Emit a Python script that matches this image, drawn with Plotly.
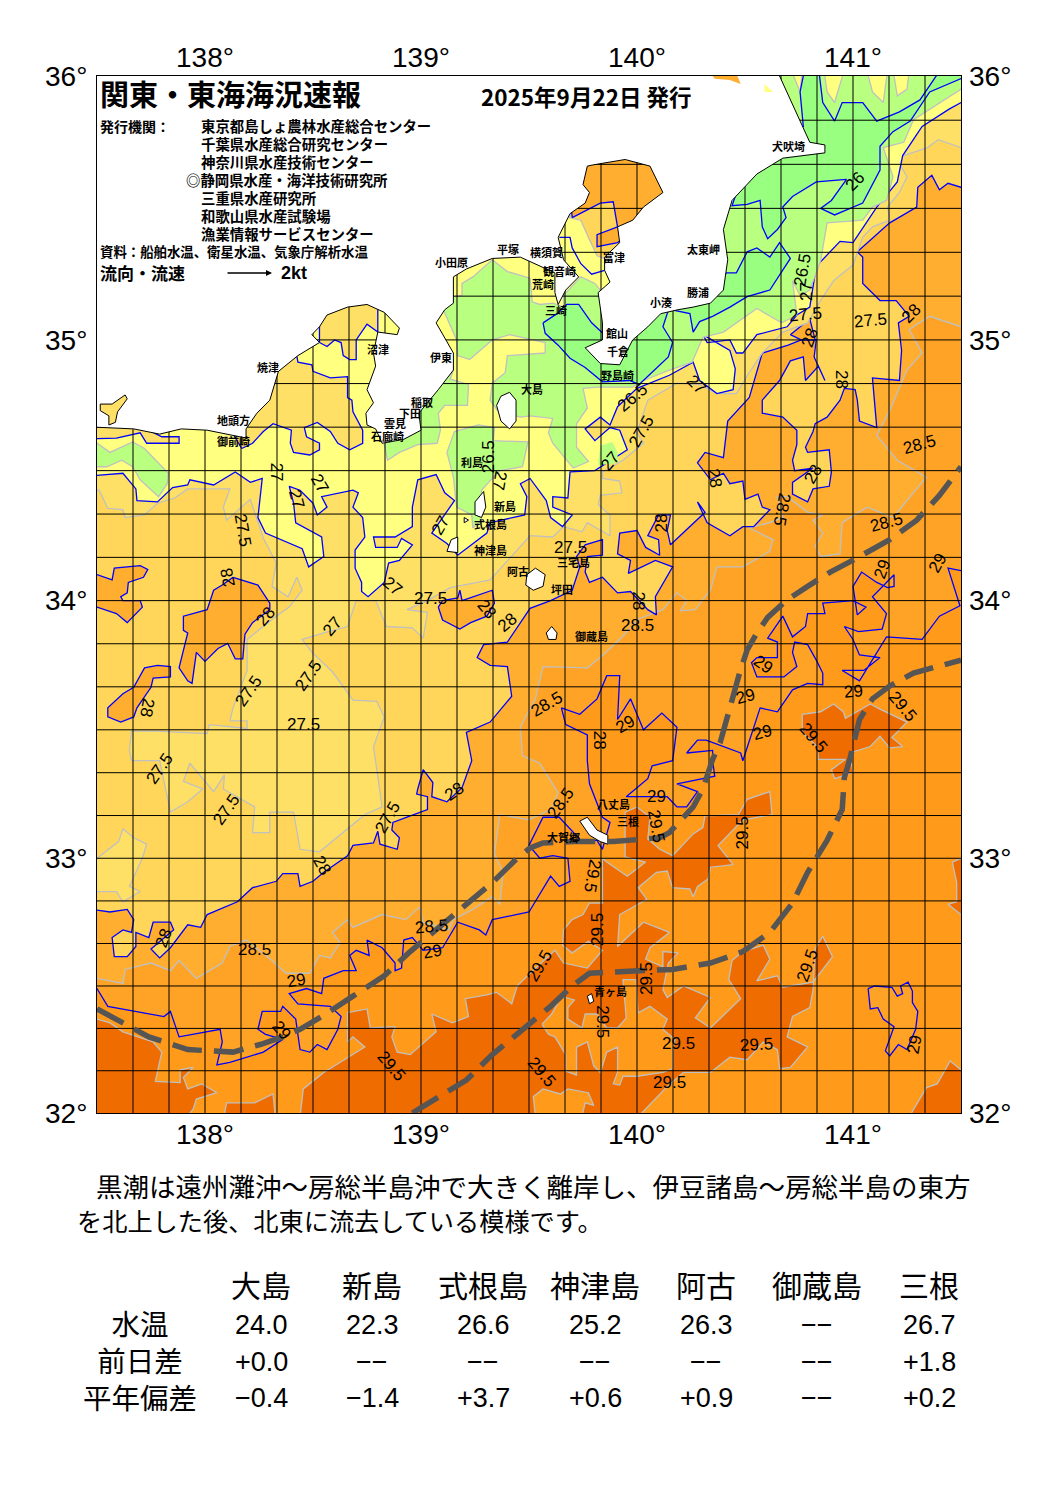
import numpy as np
import plotly.graph_objects as go

# ---- colours of the temperature bands
C_BASE = '#FF9A1A'    # 29.0-29.5
C_295 = '#EE6C00'     # > 29.5
C_285 = '#FFA326'     # 28.5-29
C_28 = '#FFAE30'      # 28-28.5
C_275 = '#FFD659'     # 27.5-28
C_27 = '#FFE066'      # 27-27.5
C_265 = '#FFFF80'     # 26.5-27
C_26 = '#B9FF80'      # 26-26.5
C_25 = '#99FF80'      # < 26
BLUE = '#0000FF'
GRAY = '#C0C0C0'

# ---- contours, (lon, lat)
coast = [(137.4,34.67),(137.67,34.66),(137.79,34.64),(137.89,34.66),(138.01,34.655),(138.19,34.625),(138.19,34.66),(138.24,34.72),(138.30,34.77),(138.31,34.80),(138.34,34.88),(138.43,34.94),(138.53,34.99),(138.495,35.02),(138.53,35.05),(138.565,35.095),(138.66,35.125),(138.75,35.135),(138.83,35.105),(138.90,35.045),(138.89,35.02),(138.80,35.03),(138.78,34.95),(138.79,34.90),(138.75,34.81),(138.78,34.76),(138.745,34.72),(138.75,34.675),(138.79,34.66),(138.82,34.605),(138.92,34.62),(139.0,34.655),(138.99,34.72),(139.08,34.81),(139.15,34.885),(139.15,34.95),(139.07,35.065),(139.11,35.115),(139.15,35.14),(139.15,35.24),(139.21,35.27),(139.33,35.31),(139.46,35.315),(139.62,35.255),(139.62,35.18),(139.635,35.135),(139.67,35.19),(139.73,35.24),(139.66,35.305),(139.635,35.39),(139.69,35.48),(139.76,35.52),(139.78,35.56),(139.75,35.59),(139.77,35.66),(139.80,35.665),(139.945,35.685),(140.06,35.66),(140.12,35.56),(140.03,35.505),(139.98,35.455),(139.91,35.43),(139.92,35.37),(139.85,35.315),(139.85,35.265),(139.875,35.22),(139.82,35.18),(139.84,35.065),(139.84,35.0),(139.76,34.97),(139.83,34.91),(139.92,34.905),(139.98,35.0),(140.05,35.05),(140.11,35.10),(140.19,35.115),(140.26,35.125),(140.34,35.14),(140.40,35.19),(140.42,35.305),(140.40,35.42),(140.44,35.53),(140.555,35.63),(140.675,35.69),(140.87,35.71),(140.87,35.74),(140.80,35.75),(140.66,36.0),(140.63,36.1),(137.4,36.1)]
oshima = [(139.35,34.75),(139.37,34.785),(139.41,34.80),(139.44,34.77),(139.44,34.69),(139.41,34.66),(139.37,34.69)]
niijima = [(139.29,34.42),(139.30,34.36),(139.28,34.32),(139.25,34.33),(139.25,34.38)]
shikine = [(139.20,34.32),(139.22,34.31),(139.20,34.30)]
kozu = [(139.12,34.19),(139.14,34.235),(139.17,34.245),(139.17,34.185)]
miyake = [(139.49,34.10),(139.53,34.125),(139.575,34.10),(139.565,34.055),(139.52,34.04),(139.485,34.06)]
mikura = [(139.58,33.875),(139.605,33.90),(139.63,33.875),(139.625,33.85),(139.59,33.85)]
hachijo = [(139.735,33.145),(139.77,33.16),(139.815,33.11),(139.865,33.09),(139.865,33.055),(139.83,33.065),(139.78,33.09)]
aogashima = [(139.77,32.46),(139.79,32.47),(139.80,32.44),(139.78,32.43)]
hamana = [(137.515,34.755),(137.57,34.755),(137.63,34.79),(137.64,34.775),(137.595,34.725),(137.585,34.685),(137.555,34.675),(137.555,34.71),(137.515,34.73)]

c29 = [(137.4,32.49),(137.5,32.49),(137.55,32.42),(137.62,32.41),(137.81,32.38),(137.84,32.40),(137.88,32.30),(138.07,32.33),(138.08,32.28),(138.055,32.19),(138.115,32.20),(138.27,32.24),(138.36,32.29),(138.28,32.31),(138.245,32.33),(138.265,32.40),(138.35,32.40),(138.36,32.42),(138.42,32.37),(138.44,32.25),(138.485,32.24),(138.52,32.27),(138.565,32.25),(138.615,32.33),(138.63,32.38),(138.58,32.42),(138.43,32.43),(138.39,32.47),(138.47,32.49),(138.54,32.47),(138.55,32.53),(138.64,32.56),(138.70,32.56),(138.67,32.62),(138.70,32.64),(138.76,32.62),(138.75,32.68),(138.82,32.65),(138.88,32.59),(138.88,32.56),(138.91,32.57),(138.92,32.68),(138.96,32.69),(139.01,32.64),(139.10,32.65),(139.17,32.75),(139.27,32.72),(139.30,32.70),(139.33,32.76),(139.50,32.79),(139.60,32.93),(139.64,32.89),(139.69,32.91),(139.68,33.0),(139.61,33.01),(139.55,33.0),(139.50,33.05),(139.565,33.16),(139.64,33.16),(139.74,33.07),(139.815,33.07),(139.84,33.035),(139.875,33.14),(139.84,33.16),(139.78,33.29),(139.77,33.38),(139.77,33.48),(139.67,33.52),(139.65,33.585),(139.735,33.56),(139.815,33.62),(139.86,33.71),(139.92,33.71),(139.91,33.54),(139.97,33.62),(140.03,33.50),(140.115,33.565),(140.185,33.51),(140.165,33.38),(140.07,33.36),(140.05,33.31),(139.95,33.24),(140.14,33.24),(140.185,33.20),(140.23,33.20),(140.28,33.26),(140.185,33.29),(140.36,33.32),(140.35,33.38),(140.35,33.42),(140.23,33.41),(140.28,33.46),(140.32,33.46),(140.48,33.41),(140.49,33.38),(140.57,33.585),(140.65,33.57),(140.72,33.655),(140.79,33.68),(140.86,33.675),(140.86,33.72),(140.83,33.77),(140.79,33.83),(140.73,33.84),(140.72,33.80),(140.74,33.745),(140.68,33.705),(140.555,33.705),(140.53,33.76),(140.555,33.78),(140.65,33.78),(140.65,33.84),(140.605,33.855),(140.675,33.94),(140.72,33.86),(140.78,33.90),(140.79,33.95),(140.87,33.95),(140.86,33.99),(141.0,34.0),(141.06,33.975),(141.02,33.945),(141.0,34.055),(141.04,34.11),(141.11,34.07),(141.16,34.05),(141.19,34.055),(141.19,34.10),(141.09,34.015),(141.155,33.95),(141.135,33.89),(141.025,33.88),(140.96,33.90),(141.0,33.85),(141.03,33.79),(141.125,33.78),(141.05,33.73),(140.95,33.73),(141.03,33.69),(141.155,33.86),(141.32,33.85),(141.40,33.94),(141.495,33.98),(141.44,34.125),(141.6,34.10),(141.6,36.1),(137.4,36.1)]
c29_se = [(141.07,32.49),(141.10,32.50),(141.18,32.495),(141.205,32.46),(141.23,32.47),(141.22,32.50),(141.255,32.515),(141.275,32.48),(141.275,32.435),(141.30,32.40),(141.29,32.33),(141.25,32.25),(141.21,32.27),(141.17,32.225),(141.15,32.245),(141.19,32.34),(141.14,32.37),(141.115,32.415),(141.08,32.41)]

warm_sw = [(137.4,32.37),(137.5,32.37),(137.56,32.355),(137.62,32.32),(137.76,32.28),(137.80,32.24),(137.77,32.125),(137.885,32.12),(137.885,32.17),(137.945,32.18),(137.90,32.14),(137.92,32.095),(137.985,32.115),(138.055,32.08),(137.96,32.055),(137.945,32.015),(137.885,31.95),(137.4,31.95)]
warm_s = [(138.08,31.95),(138.10,32.04),(138.23,32.04),(138.315,32.075),(138.33,31.95)]
warm_main = [(138.44,31.985),(138.455,32.095),(138.55,32.16),(138.67,32.225),(138.74,32.26),(138.685,32.30),(138.66,32.28),(138.66,32.395),(138.75,32.41),(138.765,32.335),(138.88,32.34),(138.865,32.30),(138.89,32.24),(138.95,32.23),(139.005,32.27),(139.07,32.32),(139.05,32.39),(139.145,32.355),(139.22,32.38),(139.205,32.45),(139.305,32.465),(139.35,32.475),(139.42,32.43),(139.445,32.50),(139.505,32.55),(139.62,32.64),(139.66,32.59),(139.77,32.57),(139.84,32.64),(139.775,32.675),(139.70,32.63),(139.655,32.66),(139.66,32.72),(139.70,32.76),(139.75,32.78),(139.78,32.825),(139.84,32.825),(139.84,33.0),(139.86,32.985),(139.955,32.93),(140.04,32.985),(139.945,33.005),(139.945,33.18),(140.0,33.20),(140.06,33.16),(140.05,33.075),(140.105,33.035),(140.165,33.01),(140.26,33.095),(140.305,33.12),(140.315,33.165),(140.47,33.17),(140.51,33.23),(140.615,33.26),(140.625,33.17),(140.49,33.15),(140.375,33.05),(140.445,32.975),(140.34,32.965),(140.33,32.92),(140.28,32.89),(140.26,32.85),(140.245,32.88),(140.165,32.885),(140.14,32.95),(140.09,32.945),(140.005,32.885),(140.045,32.84),(139.92,32.78),(139.91,32.655),(140.03,32.75),(140.15,32.71),(140.06,32.65),(140.04,32.605),(140.12,32.575),(140.12,32.635),(140.19,32.63),(140.145,32.59),(140.12,32.485),(140.14,32.455),(140.215,32.50),(140.34,32.455),(140.27,32.375),(140.34,32.335),(140.48,32.45),(140.425,32.525),(140.44,32.60),(140.49,32.635),(140.585,32.66),(140.615,32.605),(140.555,32.52),(140.65,32.54),(140.675,32.495),(140.815,32.515),(140.905,32.615),(140.86,32.695),(140.825,32.645),(140.815,32.485),(140.80,32.415),(140.72,32.38),(140.695,32.30),(140.79,32.26),(140.71,32.18),(140.66,32.175),(140.65,32.25),(140.585,32.28),(140.51,32.21),(140.43,32.22),(140.34,32.16),(140.215,32.16),(140.14,32.105),(140.005,31.985)]
warm_ne = [(140.765,33.56),(140.85,33.57),(140.91,33.60),(140.955,33.57),(140.965,33.545),(141.08,33.60),(141.125,33.58),(141.25,33.53),(141.18,33.47),(141.23,33.435),(141.17,33.43),(141.125,33.475),(141.08,33.435),(140.985,33.41),(141.0,33.335),(140.915,33.31),(140.90,33.345),(140.965,33.385),(140.84,33.385),(140.835,33.435),(140.765,33.49)]
warm_se = [(141.26,31.985),(141.34,32.10),(141.39,32.115),(141.45,32.205),(141.5,32.17),(141.6,32.17),(141.6,31.985)]
warm_e = [(141.6,33.0),(141.5,33.0),(141.46,32.985),(141.48,32.905),(141.48,32.83),(141.44,32.82),(141.5,32.78),(141.6,32.78)]
hole_aoga = [(139.56,32.35),(139.59,32.31),(139.62,32.30),(139.67,32.23),(139.67,32.165),(139.72,32.15),(139.72,32.26),(139.77,32.28),(139.80,32.185),(139.83,32.16),(139.86,32.24),(139.91,32.26),(139.91,32.16),(139.89,32.115),(139.92,32.11),(139.935,32.145),(140.0,32.145),(140.12,32.16),(140.165,32.175),(140.165,32.24),(140.175,32.29),(140.12,32.33),(140.14,32.37),(140.06,32.42),(140.005,32.395),(139.995,32.525),(139.935,32.525),(139.95,32.375),(139.91,32.335),(139.86,32.335),(139.815,32.39),(139.76,32.39),(139.745,32.335),(139.68,32.37),(139.68,32.415),(139.71,32.445),(139.65,32.46),(139.605,32.39)]
hole_bottom = [(139.53,31.985),(139.52,32.065),(139.565,32.095),(139.645,32.075),(139.68,32.095),(139.775,32.08),(139.80,32.03),(139.76,32.04),(139.745,31.985)]

c285 = [(137.4,32.53),(137.5,32.53),(137.62,32.51),(137.63,32.565),(137.75,32.59),(137.84,32.56),(137.88,32.60),(137.96,32.53),(138.08,32.59),(138.115,32.655),(138.19,32.68),(138.31,32.60),(138.375,32.55),(138.485,32.55),(138.53,32.62),(138.58,32.61),(138.625,32.67),(138.59,32.71),(138.66,32.76),(138.685,32.73),(138.82,32.78),(138.93,32.76),(138.995,32.81),(139.01,32.75),(139.13,32.72),(139.15,32.76),(139.24,32.80),(139.33,32.85),(139.365,32.82),(139.38,32.945),(139.34,33.02),(139.365,33.17),(139.50,33.15),(139.60,33.19),(139.635,33.255),(139.55,33.37),(139.47,33.40),(139.46,33.51),(139.53,33.62),(139.565,33.745),(139.77,33.74),(139.83,33.78),(139.92,33.85),(140.01,33.93),(140.12,33.965),(140.185,34.03),(140.23,34.0),(140.20,33.96),(140.27,33.965),(140.34,34.04),(140.37,34.13),(140.49,34.13),(140.615,34.19),(140.63,34.235),(140.52,34.28),(140.615,34.30),(140.675,34.32),(140.65,34.40),(140.695,34.40),(140.79,34.34),(140.86,34.33),(140.815,34.31),(140.86,34.26),(140.825,34.21),(140.85,34.17),(140.94,34.18),(140.95,34.30),(141.065,34.36),(141.185,34.32),(141.34,34.475),(141.205,34.54),(141.11,34.635),(141.17,34.73),(141.25,34.885),(141.32,34.95),(141.26,35.04),(141.355,35.09),(141.5,35.05),(141.6,35.05),(141.6,36.1),(137.4,36.1)]

c28 = [(137.4,32.81),(137.56,32.79),(137.64,32.80),(137.67,32.76),(137.66,32.71),(137.62,32.72),(137.57,32.69),(137.58,32.615),(137.64,32.615),(137.68,32.655),(137.68,32.71),(137.74,32.69),(137.76,32.75),(137.84,32.75),(137.855,32.72),(137.75,32.645),(137.79,32.61),(137.84,32.65),(137.92,32.74),(137.98,32.73),(138.01,32.78),(138.15,32.83),(138.22,32.885),(138.33,32.91),(138.36,32.94),(138.43,32.94),(138.44,32.89),(138.50,32.91),(138.55,32.945),(138.66,33.01),(138.685,33.05),(138.78,33.06),(138.80,33.105),(138.81,33.055),(138.89,33.035),(138.90,33.08),(138.865,33.11),(138.87,33.14),(138.935,33.16),(139.03,33.19),(139.03,33.24),(138.98,33.25),(138.985,33.27),(139.01,33.345),(139.055,33.295),(139.05,33.24),(139.12,33.22),(139.19,33.275),(139.235,33.38),(139.21,33.49),(139.32,33.53),(139.42,33.63),(139.40,33.745),(139.32,33.75),(139.26,33.78),(139.29,33.83),(139.40,33.84),(139.505,33.97),(139.60,34.0),(139.70,34.04),(139.735,34.13),(139.72,34.17),(139.76,34.215),(139.84,34.235),(139.84,34.175),(139.77,34.17),(139.76,34.11),(139.78,34.07),(139.84,34.09),(139.91,34.03),(139.97,34.035),(140.05,33.965),(140.09,33.945),(140.085,34.015),(140.165,34.13),(140.085,34.155),(139.96,34.105),(139.97,34.155),(139.91,34.18),(139.92,34.26),(140.0,34.27),(140.04,34.205),(140.105,34.175),(140.10,34.235),(140.05,34.25),(140.10,34.33),(140.155,34.33),(140.14,34.27),(140.155,34.215),(140.29,34.32),(140.315,34.34),(140.28,34.38),(140.325,34.30),(140.43,34.25),(140.49,34.285),(140.54,34.285),(140.615,34.35),(140.58,34.36),(140.56,34.41),(140.50,34.39),(140.49,34.46),(140.43,34.45),(140.40,34.49),(140.34,34.465),(140.28,34.53),(140.315,34.57),(140.40,34.55),(140.42,34.69),(140.52,34.78),(140.58,34.95),(140.70,34.98),(140.76,35.0),(140.83,35.0),(140.82,34.935),(140.87,34.845),(140.84,34.90),(140.78,34.845),(140.77,34.935),(140.71,34.92),(140.66,34.845),(140.58,34.77),(140.58,34.72),(140.675,34.705),(140.74,34.655),(140.74,34.60),(140.72,34.54),(140.73,34.50),(140.815,34.51),(140.72,34.455),(140.72,34.41),(140.79,34.38),(140.815,34.43),(140.89,34.44),(140.90,34.495),(140.89,34.58),(140.79,34.57),(140.78,34.59),(140.815,34.65),(140.825,34.68),(140.88,34.705),(140.94,34.77),(140.96,34.815),(141.01,34.81),(141.02,34.77),(141.03,34.69),(141.11,34.665),(141.09,34.855),(141.215,34.845),(141.225,34.96),(141.21,35.065),(141.26,35.09),(141.20,35.15),(141.125,35.15),(141.045,35.215),(141.045,35.315),(141.02,35.335),(141.17,35.445),(141.295,35.505),(141.30,35.58),(141.365,35.625),(141.40,35.57),(141.44,35.595),(141.5,35.58),(141.6,35.58),(141.6,36.1),(137.4,36.1)]
blob1 = [(137.4,34.10),(137.5,34.10),(137.57,34.08),(137.58,34.125),(137.70,34.135),(137.735,34.12),(137.715,34.09),(137.645,34.07),(137.64,34.03),(137.61,34.015),(137.62,34.0),(137.70,34.0),(137.71,33.975),(137.64,33.915),(137.59,33.95),(137.5,33.975),(137.4,33.975)]
blob2 = [(138.13,34.09),(138.245,34.06),(138.30,33.99),(138.30,33.965),(138.22,33.915),(138.185,33.87),(138.175,33.775),(138.14,33.775),(138.105,33.835),(138.06,33.815),(138.0,33.765),(137.96,33.80),(137.94,33.68),(137.92,33.69),(137.88,33.74),(137.92,33.875),(137.90,33.885),(137.90,33.94),(138.01,33.965),(138.04,34.04),(138.08,34.06)]
blob3 = [(137.78,33.75),(137.84,33.745),(137.84,33.705),(137.76,33.70),(137.75,33.665),(137.685,33.585),(137.67,33.55),(137.61,33.53),(137.55,33.55),(137.55,33.585),(137.62,33.64),(137.67,33.665),(137.72,33.74)]
blob4 = [(139.08,33.975),(139.10,34.0),(139.17,34.01),(139.18,34.04),(139.19,34.0),(139.33,34.04),(139.34,33.99),(139.305,33.94),(139.23,33.915),(139.18,33.89),(139.10,33.925)]
blob5 = [(140.71,35.02),(140.80,35.08),(140.825,35.0),(140.76,35.0)]

# Tokyo Bay, painted after the cooler bands that would otherwise cover it
tokyo_mid = [(139.685,35.465),(139.74,35.455),(139.775,35.39),(139.815,35.32),(139.85,35.31),(140.0,35.37),(140.0,35.65),(139.73,35.53)]
tokyo_bay = [(139.70,35.465),(139.83,35.52),(139.89,35.525),(139.91,35.43),(139.815,35.40),(139.815,35.355),(139.91,35.37),(140.2,35.53),(140.11,35.72),(139.78,35.72),(139.69,35.57)]
tokyo_27 = [(139.64,35.39),(139.69,35.39),(139.70,35.35),(139.74,35.29),(139.79,35.25),(139.85,35.265)]

c275 = [(137.4,34.43),(137.51,34.425),(137.55,34.355),(137.62,34.35),(137.63,34.32),(137.72,34.33),(137.78,34.375),(137.86,34.395),(137.92,34.43),(138.115,34.43),(138.085,34.36),(138.10,34.31),(138.21,34.39),(138.27,34.24),(138.33,34.145),(138.31,34.055),(138.385,34.015),(138.425,34.09),(138.45,34.04),(138.39,33.975),(138.33,33.94),(138.195,33.85),(138.195,33.73),(138.13,33.585),(138.115,33.535),(138.195,33.535),(138.195,33.505),(138.02,33.52),(138.01,33.485),(137.77,33.495),(137.66,33.495),(137.65,33.42),(137.66,33.38),(137.79,33.38),(137.84,33.18),(137.92,33.22),(137.99,33.27),(137.90,33.30),(137.93,33.37),(138.04,33.26),(138.09,33.325),(138.085,33.27),(138.23,33.20),(138.22,33.10),(138.30,33.10),(138.30,33.18),(138.41,33.18),(138.44,33.035),(138.53,33.025),(138.61,33.08),(138.74,33.17),(138.82,33.20),(138.78,33.435),(138.83,33.55),(138.795,33.61),(138.685,33.615),(138.59,33.725),(138.495,33.80),(138.45,33.85),(138.55,33.875),(138.66,33.90),(138.70,34.0),(138.79,34.0),(138.84,33.90),(138.96,33.895),(139.01,33.855),(139.03,33.955),(138.935,33.965),(139.03,34.0),(139.135,34.05),(139.32,34.08),(139.505,34.25),(139.61,34.245),(139.66,34.285),(139.745,34.265),(139.77,34.30),(139.875,34.25),(139.875,34.33),(139.82,34.37),(139.83,34.405),(139.93,34.415),(139.92,34.46),(139.84,34.47),(139.84,34.495),(139.935,34.54),(140.03,34.605),(140.0,34.645),(140.05,34.77),(140.185,34.835),(140.29,34.83),(140.37,34.795),(140.46,34.795),(140.515,34.87),(140.58,34.95),(140.675,35.03),(140.79,35.065),(140.85,35.15),(140.91,35.225),(141.0,35.285),(141.045,35.39),(141.09,35.43),(141.17,35.455),(141.16,35.505),(141.215,35.56),(141.25,35.62),(141.20,35.69),(141.345,35.73),(141.395,35.76),(141.5,35.73),(141.6,35.73),(141.6,36.1),(137.4,36.1)]
lobe_sw = [(137.4,33.0),(137.5,33.0),(137.60,33.065),(137.62,33.115),(137.67,33.08),(137.73,33.055),(137.71,33.0),(137.65,32.89),(137.70,32.87),(137.62,32.83),(137.59,32.87),(137.4,32.87)]

c27 = [(137.4,34.475),(137.62,34.49),(137.68,34.43),(137.685,34.385),(137.78,34.38),(137.85,34.435),(137.92,34.445),(137.93,34.465),(138.04,34.445),(138.14,34.495),(138.21,34.455),(138.265,34.47),(138.245,34.32),(138.28,34.26),(138.45,34.20),(138.48,34.13),(138.55,34.17),(138.54,34.245),(138.42,34.30),(138.41,34.375),(138.39,34.44),(138.44,34.425),(138.50,34.375),(138.52,34.33),(138.565,34.36),(138.54,34.40),(138.685,34.425),(138.71,34.415),(138.685,34.36),(138.73,34.32),(138.74,34.245),(138.695,34.195),(138.695,34.125),(138.725,34.07),(138.725,34.035),(138.755,34.015),(138.83,34.07),(138.85,34.145),(138.90,34.155),(138.96,34.215),(138.91,34.24),(138.89,34.205),(138.79,34.205),(138.78,34.245),(138.88,34.245),(138.96,34.285),(138.96,34.36),(138.985,34.465),(139.07,34.485),(139.11,34.415),(139.155,34.385),(139.10,34.32),(139.05,34.26),(139.12,34.22),(139.17,34.175),(139.305,34.26),(139.32,34.30),(139.48,34.33),(139.49,34.40),(139.46,34.45),(139.505,34.47),(139.58,34.385),(139.60,34.32),(139.655,34.285),(139.70,34.33),(139.61,34.36),(139.61,34.40),(139.68,34.395),(139.69,34.495),(139.805,34.50),(139.955,34.58),(139.92,34.655),(139.875,34.665),(139.805,34.615),(139.76,34.66),(139.83,34.705),(139.875,34.675),(139.91,34.745),(140.0,34.815),(140.15,34.865),(140.26,34.915),(140.29,34.845),(140.37,34.795),(140.445,34.81),(140.455,34.89),(140.43,34.96),(140.305,35.02),(140.325,34.99),(140.43,35.0),(140.46,34.95),(140.49,34.95),(140.555,35.02),(140.695,35.05),(140.74,35.095),(140.80,35.125),(140.83,35.28),(140.94,35.375),(141.0,35.37),(141.08,35.47),(141.11,35.505),(141.205,35.60),(141.23,35.70),(141.32,35.81),(141.445,35.875),(141.5,35.90),(141.6,35.90),(141.6,36.1),(137.4,36.1)]
enshu_strip = [(137.4,34.62),(137.59,34.625),(137.70,34.645),(137.73,34.605),(137.88,34.605),(137.88,34.63),(137.80,34.63),(137.74,34.655),(137.7,34.75),(137.4,34.75)]
suruga = [(138.17,34.585),(138.22,34.605),(138.27,34.65),(138.315,34.68),(138.40,34.655),(138.395,34.605),(138.41,34.57),(138.485,34.56),(138.53,34.58),(138.53,34.605),(138.47,34.63),(138.46,34.665),(138.52,34.685),(138.58,34.65),(138.615,34.605),(138.67,34.58),(138.73,34.605),(138.73,34.655),(138.685,34.725),(138.68,34.77),(138.66,34.78),(138.66,34.86),(138.58,34.855),(138.50,34.88),(138.495,34.905),(138.43,34.915),(138.425,34.94),(138.30,35.0),(138.115,34.77),(138.115,34.66)]
bay_head = [(138.53,34.99),(138.565,34.975),(138.60,35.0),(138.63,34.99),(138.64,34.94),(138.67,34.925),(138.70,34.925),(138.70,35.0),(138.75,35.06),(138.80,35.03),(138.80,35.2),(138.53,35.2)]

green_w = [(137.4,34.605),(137.5,34.605),(137.56,34.57),(137.665,34.61),(137.72,34.585),(137.83,34.49),(137.825,34.45),(137.785,34.40),(137.70,34.465),(137.665,34.515),(137.615,34.54),(137.545,34.515),(137.51,34.515),(137.4,34.515)]
green_main = [(139.04,35.305),(139.15,35.165),(139.19,35.17),(139.19,35.215),(139.24,35.24),(139.33,35.305),(139.40,35.26),(139.505,35.235),(139.515,35.145),(139.55,35.135),(139.61,35.14),(139.66,35.125),(139.66,35.17),(139.74,35.24),(139.805,35.215),(139.83,35.19),(139.82,35.165),(139.92,35.15),(140.385,35.265),(140.385,35.53),(140.71,35.80),(140.615,36.1),(141.6,36.1),(141.6,35.95),(141.5,35.95),(141.28,35.835),(141.235,35.75),(141.14,35.73),(141.185,35.62),(141.155,35.53),(141.09,35.505),(141.045,35.455),(140.88,35.445),(140.85,35.30),(140.80,35.19),(140.755,35.17),(140.72,35.225),(140.74,35.095),(140.67,35.065),(140.615,35.09),(140.555,35.12),(140.46,35.065),(140.40,35.03),(140.305,35.01),(140.255,34.915),(140.15,34.885),(140.03,34.845),(139.98,34.82),(139.815,34.82),(139.75,34.815),(139.77,34.74),(139.72,34.68),(139.72,34.59),(139.775,34.535),(139.705,34.51),(139.61,34.605),(139.59,34.645),(139.61,34.70),(139.505,34.71),(139.46,34.705),(139.355,34.73),(139.32,34.77),(139.33,34.835),(139.39,34.875),(139.40,34.94),(139.575,34.95),(139.575,34.99),(139.41,35.02),(139.33,35.0),(139.225,34.925),(139.17,34.94),(139.165,35.0),(139.085,35.15)]
green_izu = [(139.15,34.885),(139.135,34.85),(139.22,34.83),(139.215,34.75),(139.11,34.75),(139.08,34.72),(139.09,34.655),(139.075,34.605),(138.985,34.60),(138.90,34.57),(138.845,34.54),(138.83,34.60),(138.945,34.695),(139.04,34.79)]
green_toshima = [(139.12,34.57),(139.155,34.65),(139.265,34.675),(139.34,34.665),(139.335,34.615),(139.495,34.61),(139.47,34.515),(139.365,34.50),(139.335,34.475),(139.28,34.425),(139.28,34.31),(139.24,34.28),(139.235,34.33),(139.165,34.36),(139.15,34.475)]
green_patch = [(139.82,34.52),(139.83,34.595),(139.885,34.61),(139.91,34.57),(139.91,34.53)]
yellow_n1 = [(140.86,36.05),(140.88,35.94),(140.915,35.90),(140.97,36.05)]
yellow_n2 = [(141.055,36.05),(141.09,35.94),(141.14,35.90),(141.165,36.05)]
yellow_n3 = [(141.18,36.05),(141.205,35.925),(141.25,35.95),(141.265,36.05)]
yellow_n4 = [(140.70,36.05),(140.755,35.94),(140.77,36.05)]
speck_a = [(140.35,36.0),(140.465,36.0),(140.48,35.97),(140.43,35.985),(140.36,35.99)]
speck_b = [(140.59,35.97),(140.63,35.94),(140.59,35.94)]

c26_mouth = [(139.565,35.065),(139.63,35.10),(139.675,35.135),(139.73,35.135),(139.79,35.065),(139.875,35.0),(140.15,35.125),(140.12,35.05),(140.165,34.99),(140.145,34.935),(140.01,34.83),(139.965,34.845),(139.84,34.84),(139.76,34.895),(139.69,34.93),(139.635,34.98),(139.575,35.025)]
c26_ohara = [(140.155,35.115),(140.245,35.10),(140.26,35.03),(140.29,35.07),(140.35,35.09),(140.43,35.125),(140.51,35.165),(140.615,35.19),(140.71,35.31),(140.66,35.37),(140.615,35.315),(140.555,35.35),(140.51,35.335),(140.46,35.255),(140.415,35.255),(140.29,35.19)]
c26_north = [(140.77,36.1),(140.77,36.0),(140.755,35.94),(140.77,35.81),(140.71,35.80),(140.48,35.605),(140.44,35.51),(140.51,35.515),(140.57,35.53),(140.58,35.43),(140.605,35.385),(140.65,35.42),(140.69,35.465),(140.675,35.505),(140.72,35.545),(140.83,35.60),(140.97,35.61),(140.90,35.53),(140.85,35.50),(140.915,35.475),(141.045,35.52),(141.125,35.645),(141.125,35.735),(141.185,35.79),(141.265,35.83),(141.355,35.94),(141.5,35.99),(141.6,35.99),(141.6,36.1),(141.385,36.1),(141.385,36.0),(141.31,35.91),(141.215,35.865),(141.11,35.83),(141.045,35.90),(140.95,35.90),(140.915,35.83),(140.86,35.90),(140.845,36.0),(140.845,36.1)]

# Kuroshio axis
kuroshio_a = [(137.5,32.41),(137.615,32.355),(137.74,32.30),(137.92,32.25),(138.08,32.24),(138.13,32.24),(138.255,32.27),(138.36,32.30),(138.44,32.33),(138.55,32.385),(138.685,32.46),(138.83,32.54),(138.95,32.635),(139.15,32.78),(139.33,32.905),(139.445,33.0),(139.505,33.04),(139.565,33.06),(139.71,33.065),(139.89,33.065),(140.105,33.08),(140.15,33.10),(140.26,33.20),(140.305,33.27),(140.35,33.385),(140.385,33.45),(140.43,33.59),(140.475,33.72),(140.51,33.81),(140.555,33.875),(140.605,33.935),(140.69,34.0),(140.79,34.055),(140.895,34.11),(141.02,34.165),(141.17,34.235),(141.295,34.31),(141.40,34.405),(141.5,34.515)]
kuroshio_b = [(138.96,32.0),(139.21,32.13),(139.33,32.23),(139.505,32.355),(139.60,32.42),(139.70,32.50),(139.78,32.55),(140.01,32.56),(140.165,32.565),(140.34,32.59),(140.49,32.635),(140.615,32.71),(140.72,32.825),(140.79,32.945),(140.88,33.07),(140.95,33.19),(140.96,33.315),(140.985,33.385),(141.03,33.54),(141.09,33.62),(141.17,33.67),(141.28,33.72),(141.5,33.77)]

# isotherm labels: text, lon, lat, angle
iso_labels = [('26',141.01,35.60,-45),('26.5',140.765,35.265,-80),('27',140.785,35.185,-90),('27.5',140.78,35.095,-5),('27.5',141.08,35.075,-5),('28',141.27,35.10,-45),('28',140.80,35.01,-70),('28',140.95,34.85,90),('27',140.275,34.83,45),('26.5',139.98,34.78,-40),('27.5',140.02,34.65,-60),('27',139.875,34.535,-50),('26.5',139.31,34.555,-90),('27',139.365,34.46,100),('27',139.09,34.29,-60),('27',138.33,34.495,90),('27',138.425,34.39,75),('27',138.53,34.45,60),('27.5',138.175,34.27,80),('28',138.105,34.09,-100),('28',138.28,33.94,-50),('27',138.59,33.90,-50),('27',138.87,34.055,40),('27.5',139.045,34.01,0),('28',139.305,33.965,50),('28',139.40,33.915,-40),('28',137.73,33.585,100),('27.5',138.48,33.71,-55),('27.5',138.20,33.65,-55),('27.5',138.455,33.52,0),('27.5',138.10,33.19,-55),('27.5',137.79,33.35,-55),('27.5',138.845,33.16,-60),('28',139.155,33.26,-35),('28',138.54,32.97,60),('28',137.81,32.69,-70),('28.5',138.23,32.645,0),('29',138.425,32.52,-10),('29',138.355,32.325,50),('29.5',138.865,32.185,50),('28.5',139.05,32.735,-5),('29',139.055,32.635,-10),('28.5',139.58,33.60,-30),('28.5',139.645,33.215,-55),('29',140.09,33.24,0),('29.5',140.09,33.125,80),('29.5',140.49,33.10,-90),('29.5',139.795,32.93,100),('29.5',139.82,32.72,-90),('29.5',139.55,32.58,-60),('29.5',140.045,32.53,-90),('29.5',140.79,32.58,-70),('29.5',139.84,32.36,90),('29.5',139.56,32.16,50),('29.5',140.19,32.275,0),('29.5',140.555,32.27,-3),('29.5',140.15,32.12,0),('29',141.285,32.27,-80),('29.5',140.815,33.47,50),('29.5',141.23,33.59,50),('29',141.0,33.65,-5),('29',140.58,33.49,-15),('29',140.50,33.63,-15),('29',140.585,33.755,35),('29',139.945,33.52,-30),('28',139.83,33.46,90),('28.5',140.0,33.905,0),('28',140.005,34.0,90),('28.5',141.155,34.30,-15),('28.5',141.31,34.60,-15),('29',141.135,34.12,-70),('29',141.39,34.145,-60),('28.5',140.67,34.35,100),('28',140.36,34.47,80),('28',140.115,34.30,-90),('28',140.815,34.485,-60),('27.5',139.69,34.205,0)]

places = [('犬吠埼',788,147),('小田原',451,263),('平塚',508,250),('横須賀',546,253),('観音崎',559,272),('荒崎',543,285),('三崎',556,311),('館山',617,334),('千倉',618,352),('野島崎',617,376),('小湊',661,303),('勝浦',698,293),('太東岬',703,250),('富津',614,258),('沼津',378,350),('伊東',441,358),('焼津',268,368),('御前崎',233,442),('地頭方',233,421),('稲取',422,403),('下田',410,414),('雲見',395,424),('石廊崎',387,437),('大島',532,390),('利島',472,463),('新島',505,507),('式根島',490,525),('神津島',490,551),('阿古',518,572),('三宅島',573,563),('坪田',562,590),('御蔵島',591,637),('八丈島',613,805),('三根',628,822),('大賀郷',563,838),('青ヶ島',610,992)]

org_lines = ['東京都島しょ農林水産総合センター','千葉県水産総合研究センター','神奈川県水産技術センター','◎静岡県水産・海洋技術研究所','三重県水産研究所','和歌山県水産試験場','漁業情報サービスセンター']

# table under the map
stations = ['大島','新島','式根島','神津島','阿古','御蔵島','三根']
row_names = ['水温','前日差','平年偏差']
water_temp = ['24.0','22.3','26.6','25.2','26.3','−−','26.7']
day_diff = ['+0.0','−−','−−','−−','−−','−−','+1.8']
normal_diff = ['−0.4','−1.4','+3.7','+0.6','+0.9','−−','+0.2']
comment = ['黒潮は遠州灘沖～房総半島沖で大きく離岸し、伊豆諸島～房総半島の東方','を北上した後、北東に流去している模様です。']

lon_ticks = [138,139,140,141]
lat_ticks = [32,33,34,35,36]
CJK = 'Noto Sans CJK JP'
LATIN = 'Liberation Sans'


def merc(lat):
    r = np.radians(np.asarray(lat, dtype=float))
    return np.degrees(np.log(np.tan(np.pi / 4 + r / 2)))


fig = go.Figure()


def zone(pts, fill, line=None, width=1.3):
    pts = list(pts) + [pts[0]]
    lon, lat = zip(*pts)
    ln = dict(color=line, width=width) if line else dict(width=0)
    fig.add_trace(go.Scatter(x=lon, y=merc(lat), mode='lines', fill='toself', fillcolor=fill,
                             line=ln, hoverinfo='skip', showlegend=False))


def px(x):
    return (x - 97) / 864


def py(y):
    return (1113 - y) / 1037


def put(text, x, y, size, anchor='left', bold=True, font=CJK):
    t = '<b>' + text + '</b>' if bold else text
    if anchor == 'left':
        x = x - 3
    if font == CJK:
        y = y - size * 0.09
    fig.add_annotation(text=t, x=px(x), y=py(y), xref='paper', yref='paper', showarrow=False,
                       xanchor=anchor, yanchor='middle', font=dict(size=size, family=font, color='black'))


# warm to cool, each band painted over the last
zone(c29, C_285, BLUE)
zone(c29_se, C_285, BLUE)
for w in [warm_sw, warm_s, warm_main, warm_ne, warm_se, warm_e]:
    zone(w, C_295, GRAY)
zone(hole_aoga, C_BASE, GRAY)
zone(hole_bottom, C_BASE, GRAY)
zone(c285, C_28, GRAY)
zone(c28, C_275, BLUE)
for b in [blob1, blob2, blob3, blob4, blob5]:
    zone(b, C_28, BLUE)
zone(c275, C_27, GRAY)
zone(lobe_sw, C_27, GRAY)
zone(c27, C_265, BLUE)
zone(enshu_strip, C_27, BLUE)
zone(suruga, C_27, BLUE)
zone(bay_head, C_27, BLUE)
for g in [green_w, green_main, green_izu, green_toshima]:
    zone(g, C_26, GRAY)
zone(green_patch, C_26)
for y_ in [yellow_n1, yellow_n2, yellow_n3, yellow_n4]:
    zone(y_, C_265, GRAY)
for c in [c26_mouth, c26_ohara, c26_north]:
    zone(c, C_25, BLUE)
zone(tokyo_mid, C_275, GRAY)
zone(tokyo_bay, C_28, BLUE)
lon, lat = zip(*tokyo_27)
fig.add_trace(go.Scatter(x=lon, y=merc(lat), mode='lines', line=dict(color=BLUE, width=1.3),
                         hoverinfo='skip', showlegend=False))

# 10 minute grid, on top of the sea but under the land
grid_x, grid_y = [], []
for m in range(1, 24):
    lon = 137.5 + m / 6
    grid_x += [lon, lon, None]
    grid_y += [float(merc(32)), float(merc(36)), None]
for m in range(1, 24):
    lat = 32 + m / 6
    grid_x += [137.5, 141.5, None]
    grid_y += [float(merc(lat)), float(merc(lat)), None]
fig.add_trace(go.Scatter(x=grid_x, y=grid_y, mode='lines', line=dict(color='black', width=1),
                         hoverinfo='skip', showlegend=False))

zone(coast, 'white', 'black', 1)
zone(hamana, C_27, 'black', 1)
zone(speck_a, C_28)
zone(speck_b, C_265)
for isl in [oshima, niijima, shikine, kozu, miyake, mikura, hachijo, aogashima]:
    zone(isl, 'white', 'black', 1)

for k in [kuroshio_a, kuroshio_b]:
    lon, lat = zip(*k)
    fig.add_trace(go.Scatter(x=lon, y=merc(lat), mode='lines', hoverinfo='skip', showlegend=False,
                             line=dict(color='#555555', width=5.5, dash='30px,12px')))

# second pair of axes only carries the top and right tick labels
fig.add_trace(go.Scatter(x=[None], y=[None], xaxis='x2', yaxis='y2', showlegend=False))

for text, lon, lat, ang in iso_labels:
    fig.add_annotation(text=text, x=lon, y=float(merc(lat)), xref='x', yref='y', showarrow=False, textangle=ang,
                       font=dict(size=17, family=LATIN, color='black'))

for text, x, y in places:
    put(text, x, y, 11, 'center')

put('関東・東海海況速報', 101, 96, 29)
put('2025年9月22日 発行', 482, 98, 22.5)
put('発行機関：', 101, 127, 14)
for i, line in enumerate(org_lines):
    x0 = 187 if line.startswith('◎') else 202
    put(line, x0, 127 + i * 18, 14.4)
put('資料：船舶水温、衛星水温、気象庁解析水温', 101, 252, 13.4)
put('流向・流速', 101, 274, 17)
put('2kt', 282, 273, 18, font=LATIN)
fig.add_annotation(x=px(272), y=py(273), xref='paper', yref='paper', ax=-46, ay=0, text='', showarrow=True,
                   arrowhead=2, arrowsize=0.8, arrowwidth=1.5, arrowcolor='black')

# comment and table
put(comment[0], 97, 1188, 26.5, bold=False)
put(comment[1], 78, 1222, 25.2, bold=False)
cols = [261, 372, 483, 595, 706, 817, 929]
for x, s in zip(cols, stations):
    put(s, x, 1287, 30, 'center', bold=False)
# row names as one block, their line height is the row spacing
put('<br>'.join(row_names), 140, 1362, 28.5, 'center', bold=False)
for y, vals in zip([1325, 1362, 1398], [water_temp, day_diff, normal_diff]):
    for x, v in zip(cols, vals):
        put(v, x, y, 27, 'center', bold=False, font=LATIN)

lon_text = [str(v) + '°' for v in lon_ticks]
lat_text = [str(v) + '°' for v in lat_ticks]
tick_font = dict(size=28, family=LATIN, color='black')
xrange_ = [137.5, 141.5]
yrange_ = [float(merc(32)), float(merc(36))]
fig.update_layout(
    width=1048, height=1487, autosize=False, showlegend=False,
    margin=dict(l=89, r=95, t=68, b=382),
    paper_bgcolor='white', plot_bgcolor=C_BASE,
    xaxis=dict(range=xrange_, tickvals=lon_ticks, ticktext=lon_text, tickfont=tick_font, showgrid=False, zeroline=False,
               showline=True, linecolor='black', linewidth=1, mirror=True, ticks='', ticklabelstandoff=-4),
    yaxis=dict(range=yrange_, tickvals=[float(v) for v in merc(lat_ticks)], ticktext=lat_text, tickfont=tick_font,
               showgrid=False, zeroline=False, showline=True, linecolor='black', linewidth=1, mirror=True, ticks='',
               ticklabelstandoff=3),
    xaxis2=dict(range=xrange_, overlaying='x', side='top', anchor='y2', tickvals=lon_ticks, ticktext=lon_text,
                tickfont=tick_font, showgrid=False, zeroline=False, ticks='', ticklabelstandoff=2),
    yaxis2=dict(range=yrange_, overlaying='y', side='right', anchor='x2', tickvals=[float(v) for v in merc(lat_ticks)],
                ticktext=lat_text, tickfont=tick_font, showgrid=False, zeroline=False, ticks='', ticklabelstandoff=7),
)

fig.write_html("out.html")
